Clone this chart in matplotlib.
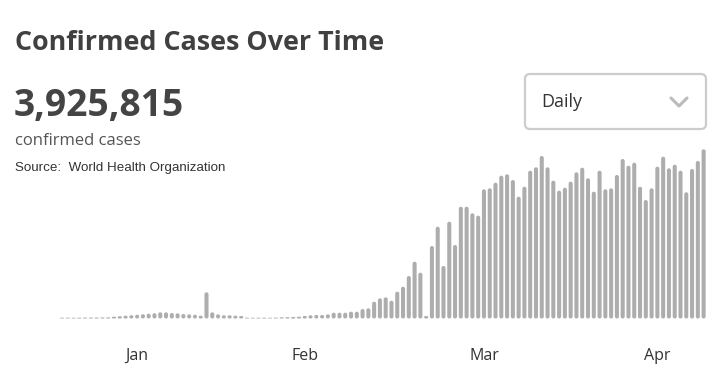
import matplotlib
matplotlib.use('Agg')
import matplotlib.pyplot as plt
import matplotlib.dates as mdates
from matplotlib.patches import FancyBboxPatch
import pandas as pd

# daily confirmed cases (one bar per day)
start_date = '2020-01-19'
daily_cases = [
    480, 500, 460, 540, 560, 600, 620, 640, 680,
    1080, 1380, 1680, 1980, 2280, 2580, 2880, 3180, 3720, 3700,
    3300, 3120, 2700, 2520, 2280, 1680, 15720, 3720, 2520, 1920,
    1920, 1680, 1500, 500, 450, 480, 520, 460, 500, 720,
    780, 900, 1080, 1500, 1920, 2100, 2100, 2520, 3480, 3480,
    3480, 4080, 4080, 5700, 6120, 10080, 12120, 12720, 10680, 16080,
    19080, 25500, 34080, 27480, 1500, 43500, 55080, 31500, 58080, 44100,
    67080, 67080, 63120, 61680, 77520, 78120, 81480, 85680, 86520, 83100,
    73080, 79080, 88680, 90720, 97500, 90720, 82680, 76680, 78480, 82080,
    87720, 90480, 84120, 76080, 88680, 77520, 78120, 86100, 95700, 91680,
    93480, 79080, 71100, 78120, 91080, 97080, 90120, 92280, 88680, 75720,
    89700, 94500, 101520,
]
dates = pd.date_range(start_date, periods=len(daily_cases), freq='D')

tick_dates = pd.to_datetime(['2020-02-01', '2020-03-01', '2020-04-01', '2020-05-01'])
tick_labels = ['Jan', 'Feb', 'Mar', 'Apr']

title = 'Confirmed Cases Over Time'
total_text = '3,925,815'
total_caption = 'confirmed cases'
source_text = 'Source:  World Health Organization'
dropdown_text = 'Daily'

plt.rcParams['font.family'] = ['Open Sans', 'DejaVu Sans']

W, H = 728, 386
fig = plt.figure(figsize=(W / 100, H / 100), dpi=100)
fig.patch.set_facecolor('white')

# header texts and dropdown, drawn in pixel coordinates
ov = fig.add_axes([0, 0, 1, 1])
ov.set_xlim(0, W)
ov.set_ylim(H, 0)
ov.axis('off')

ov.text(15, 43, title, fontsize=19.4, fontweight='bold', color='#404040', va='center', ha='left')
ov.text(14, 106, total_text, fontsize=26.8, fontweight='bold', color='#444444', va='center', ha='left')
ov.text(15, 141, total_caption, fontsize=12, color='#555555', va='center', ha='left')
ov.text(15, 168, source_text, fontsize=9.6, color='#333333', va='center', ha='left',
        family=['Liberation Sans', 'DejaVu Sans'])

box = FancyBboxPatch((525, 74), 181, 55, boxstyle='round,pad=0,rounding_size=5',
                     facecolor='white', edgecolor='#cccccc', linewidth=1.6)
ov.add_patch(box)
ov.text(541, 102, dropdown_text, fontsize=13, color='#333333', va='center', ha='left')
ov.plot([671, 679, 687], [98, 106, 98], color='#bbbbbb', linewidth=2.2,
        solid_capstyle='round', solid_joinstyle='round')

# bar area
ax_w, ax_h = 653.2, 178.5
ax = fig.add_axes([56.2 / W, 67.5 / H, ax_w / W, ax_h / H])
ax.patch.set_visible(False)
x0 = mdates.date2num(dates[0] - pd.Timedelta(days=1))
x1 = mdates.date2num(dates[-1] + pd.Timedelta(days=1))
y_top = 107100
ax.set_xlim(x0, x1)
ax.set_ylim(0, y_top)

# rounded bars: corner radius of 2 px, converted to data units
bar_w = 0.7
x_per_px = (x1 - x0) / ax_w
y_per_px = y_top / ax_h
aspect = y_per_px / x_per_px
radius = 2 * x_per_px
for d, v in zip(mdates.date2num(dates), daily_cases):
    r = min(radius, v / aspect / 2)
    ax.add_patch(FancyBboxPatch((d - bar_w / 2, 0), bar_w, v,
                                boxstyle=f'round,pad=0,rounding_size={r}',
                                mutation_aspect=aspect,
                                facecolor='#adadad', edgecolor='none'))

ax.set_xticks(mdates.date2num(tick_dates))
ax.set_xticklabels(tick_labels)
ax.tick_params(axis='x', length=0, labelsize=11.5, pad=21, labelcolor='#333333')
ax.set_yticks([])
for s in ax.spines.values():
    s.set_visible(False)

fig.savefig('out.png', dpi=100, facecolor='white')
